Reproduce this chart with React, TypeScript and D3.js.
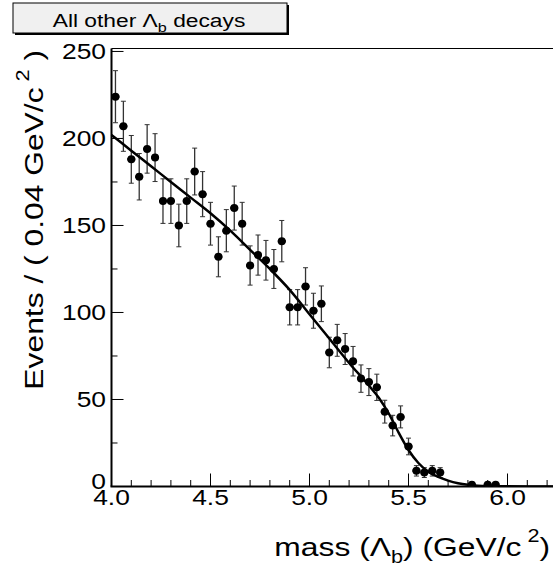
import React from "react";
import * as d3 from "d3";

// bin centres (GeV/c^2) and counts, 0.04 wide bins
const binCenters = [
  4.02, 4.06, 4.1, 4.14, 4.18, 4.22, 4.26, 4.3, 4.34, 4.38, 4.42, 4.46, 4.5, 4.54, 4.58,
  4.62, 4.66, 4.7, 4.74, 4.78, 4.82, 4.86, 4.9, 4.94, 4.98, 5.02, 5.06, 5.1, 5.14, 5.18,
  5.22, 5.26, 5.3, 5.34, 5.38, 5.42, 5.46, 5.5, 5.54, 5.58, 5.62, 5.66, 5.82, 5.9, 5.94,
];
const counts = [
  224, 207, 188, 178, 194, 189, 164, 164, 150, 164, 181, 168, 151, 132, 147,
  160, 151, 127, 133, 130, 125, 141, 103, 103, 115, 101, 105, 77, 84, 79,
  72, 62, 60, 57, 43, 35, 40, 23, 9, 8, 9, 8, 1, 1, 1,
];
const binHalfWidth = 0.02;

// fitted curve, sampled by eye
const fitMass = [
  4.0, 4.1, 4.2, 4.3, 4.4, 4.5, 4.6, 4.7, 4.8, 4.9, 5.0, 5.1, 5.2, 5.3, 5.35, 5.4, 5.45,
  5.5, 5.55, 5.6, 5.65, 5.7, 5.75, 5.8, 5.85, 5.9, 6.0, 6.1, 6.2, 6.3, 6.4,
];
const fitEvents = [
  202, 193, 184, 175, 166, 157, 147, 136, 125, 113, 99, 85, 71, 58, 51, 42, 31,
  21, 13.5, 8.5, 5.5, 3.4, 1.9, 1.0, 0.5, 0.25, 0.08, 0.03, 0.01, 0, 0,
];

const yTicks = [0, 50, 100, 150, 200, 250];
const xTickLabels = ["4.0", "4.5", "5.0", "5.5", "6.0"];

const FONT = "'Liberation Sans', Arial, Helvetica, sans-serif";
const STRETCH = 1.2; // ROOT's text comes out wider than plain Helvetica

export default function App() {
  const width = 553, height = 567;
  const left = 111.5, bottom = 486.5, top = 48.5;

  const x = d3.scaleLinear().domain([4.0, 6.4]).range([left, left + 2.4 * 198]);
  const y = d3.scaleLinear().domain([0, 251.7]).range([bottom, top]);

  const line = d3.line<number>()
    .x((d, i) => x(fitMass[i]))
    .y(d => y(d))
    .curve(d3.curveMonotoneX);

  const xMinor = d3.range(0, 25).map(i => x.domain()[0] + i * 0.1);
  const yMinor = d3.range(0, 11).map(i => i * 25);

  return (
    <svg width={width} height={height}
      style={{ position: "absolute", left: 0, top: 0, background: "#fff" }}
      fontFamily={FONT}>
      <defs>
        <clipPath id="frame">
          <rect x={left - 6} y={top} width={width - left + 6} height={bottom - top} />
        </clipPath>
      </defs>

      {/* title pave */}
      <rect x={15} y={5} width={274} height={30} fill="#000" />
      <rect x={13} y={3} width={274} height={30} fill="#f0f0f0" stroke="#000" strokeWidth={1} />
      <g transform={`translate(149,27) scale(${STRETCH},1)`}>
        <text textAnchor="middle" fontSize={19}>
          All other Λ<tspan fontSize={13.5} dy={5}>b</tspan><tspan dy={-5}> decays</tspan>
        </text>
      </g>

      {/* frame */}
      <line x1={left} x2={width} y1={top} y2={top} stroke="#000" strokeWidth={1.2} />
      <line x1={left} x2={left} y1={top} y2={bottom} stroke="#000" strokeWidth={2} />
      <line x1={left - 1} x2={width} y1={bottom} y2={bottom} stroke="#000" strokeWidth={2} />

      {/* x ticks */}
      {xMinor.map((v, i) => (
        <line key={"xt" + i} x1={x(v)} x2={x(v)} y1={bottom} y2={bottom - (i % 5 === 0 ? 13 : 6.5)}
          stroke="#000" strokeWidth={1} />
      ))}
      {xTickLabels.map((t, i) => (
        <g key={"xl" + i} transform={`translate(${x(+t)},505) scale(${STRETCH},1)`}>
          <text textAnchor="middle" fontSize={22}>{t}</text>
        </g>
      ))}

      {/* y ticks */}
      {yMinor.map((v, i) => (
        <line key={"yt" + i} x1={left} x2={left + (i % 2 === 0 ? 12 : 6)} y1={y(v)} y2={y(v)}
          stroke="#000" strokeWidth={1} />
      ))}
      {yTicks.map(v => (
        <g key={"yl" + v} transform={`translate(106,${y(v) + (v === 0 ? 2.5 : 8)}) scale(${STRETCH},1)`}>
          <text textAnchor="end" fontSize={22}>{v}</text>
        </g>
      ))}

      {/* axis titles */}
      <g transform={`translate(550,556) scale(${STRETCH},1)`}>
        <text textAnchor="end" fontSize={26.5}>
          mass (Λ<tspan fontSize={18} dy={7}>b</tspan><tspan dy={-7}>) (GeV/c</tspan>
          <tspan fontSize={18} dy={-14}> 2</tspan><tspan dy={14}>)</tspan>
        </text>
      </g>
      <g transform={`translate(43,50) rotate(-90) scale(${STRETCH},1)`}>
        <text textAnchor="end" fontSize={26.5}>
          Events / ( 0.04 GeV/c<tspan fontSize={18} dy={-14}> 2</tspan><tspan dy={14}> )</tspan>
        </text>
      </g>

      {/* data */}
      <g clipPath="url(#frame)">
        {binCenters.map((c, i) => {
          const n = counts[i];
          const e = Math.sqrt(n);
          const cx = x(c), cy = y(n);
          return (
            <g key={"p" + i}>
              <line x1={cx} x2={cx} y1={y(n + e)} y2={y(n - e)} stroke="#333" strokeWidth={1.3} />
              <line x1={cx - 2.5} x2={cx + 2.5} y1={y(n + e)} y2={y(n + e)} stroke="#333" strokeWidth={1} />
              <line x1={cx - 2.5} x2={cx + 2.5} y1={y(n - e)} y2={y(n - e)} stroke="#333" strokeWidth={1} />
              <line x1={x(c - binHalfWidth)} x2={x(c + binHalfWidth)} y1={cy} y2={cy} stroke="#000" strokeWidth={2.5} />
              <circle cx={cx} cy={cy} r={4} fill="#000" />
            </g>
          );
        })}
        <path d={line(fitEvents) ?? ""} fill="none" stroke="#000" strokeWidth={2.5} />
      </g>
    </svg>
  );
}
